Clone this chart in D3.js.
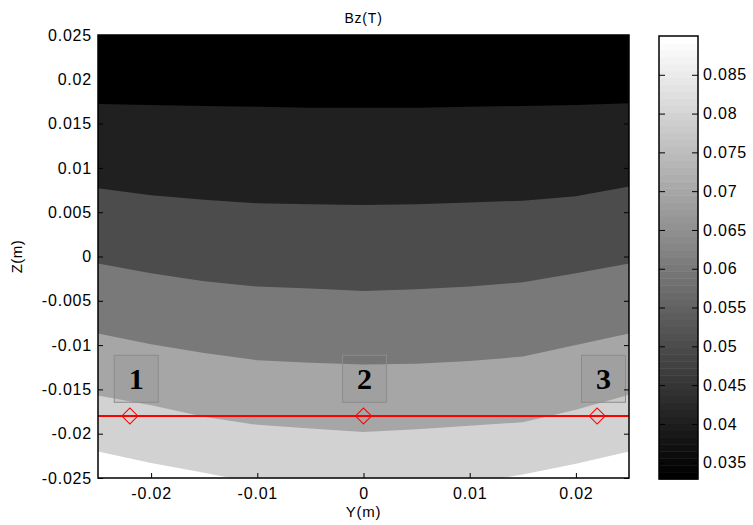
<!DOCTYPE html>
<html>
<head>
<meta charset="utf-8">
<script src="https://cdnjs.cloudflare.com/ajax/libs/d3/7.8.5/d3.min.js"></script>
<style>
	body { margin: 0; background: #fff; }
	svg { display: block; }
	text { font-family: "Liberation Sans", Arial, sans-serif; fill: #000; }
</style>
</head>
<body>
<svg id="chart" width="753" height="525"></svg>
<script>
'use strict';

// horizontal sample positions (Y, m) where the contour lines were read
var ySamples = [-0.025, -0.02, -0.015, -0.01, -0.005, 0, 0.005, 0.01, 0.015, 0.02, 0.025];

// contour levels of Bz (T) and the Z (m) of each level line at ySamples
var levels = [0.04, 0.05, 0.06, 0.07, 0.08, 0.09];
var line040 = [0.0172, 0.0171, 0.0170, 0.0169, 0.0168, 0.0168, 0.0168, 0.0169, 0.0170, 0.0171, 0.0173];
var line050 = [0.0077, 0.0069, 0.0064, 0.0060, 0.0059, 0.0058, 0.0059, 0.0061, 0.0063, 0.0068, 0.0079];
var line060 = [-0.0008, -0.0019, -0.0028, -0.0034, -0.0036, -0.0039, -0.0037, -0.0034, -0.0029, -0.0019, -0.0008];
var line070 = [-0.0087, -0.0099, -0.0109, -0.0117, -0.0120, -0.0122, -0.0121, -0.0118, -0.0113, -0.0100, -0.0087];
var line080 = [-0.0157, -0.0168, -0.0181, -0.0190, -0.0194, -0.0198, -0.0195, -0.0191, -0.0187, -0.0173, -0.0156];
var line090 = [-0.0220, -0.0233, -0.0244, -0.0256, -0.0260, -0.0262, -0.0260, -0.0256, -0.0246, -0.0234, -0.0220];
var levelLines = [line040, line050, line060, line070, line080, line090];

// colour limits of the colour bar
var cLimits = [0.0329, 0.0900];
var cTicks = [0.035, 0.04, 0.045, 0.05, 0.055, 0.06, 0.065, 0.07, 0.075, 0.08, 0.085];

// axes
var yDomain = [-0.025, 0.025];
var zDomain = [-0.025, 0.025];
var yTicks = [-0.02, -0.01, 0, 0.01, 0.02];
var zTicks = [-0.025, -0.02, -0.015, -0.01, -0.005, 0, 0.005, 0.01, 0.015, 0.02, 0.025];

// measurement line and points
var lineZ = -0.018;
var pointY = [-0.022, 0, 0.022];
var pointNames = ['1', '2', '3'];
var labelY = [-0.0214, 0.0001, 0.0226];
var labelZ = -0.0138;

var plot = { left: 98, top: 35, width: 531, height: 443 };
var bar = { left: 659, top: 36, width: 39, height: 443 };

var svg = d3.select('#chart');

var x = d3.scaleLinear().domain(yDomain).range([plot.left, plot.left + plot.width]);
var y = d3.scaleLinear().domain(zDomain).range([plot.top + plot.height, plot.top]);
var color = d3.scaleLinear().domain(cLimits).range(['#000000', '#ffffff']).clamp(true);

svg.append('defs')
	.append('clipPath')
	.attr('id', 'plot-clip')
	.append('rect')
	.attr('x', plot.left)
	.attr('y', plot.top)
	.attr('width', plot.width)
	.attr('height', plot.height);

var field = svg.append('g').attr('clip-path', 'url(#plot-clip)');

// lowest band: value below the first level
field.append('rect')
	.attr('x', plot.left)
	.attr('y', plot.top)
	.attr('width', plot.width)
	.attr('height', plot.height)
	.attr('fill', color(cLimits[0]));

// each level fills everything below its line (painted top to bottom)
var area = d3.area()
	.x(function(d) { return x(d[0]); })
	.y0(y(zDomain[0]) + 20)
	.y1(function(d) { return y(d[1]); });

levels.forEach(function(level, i) {
	var pts = ySamples.map(function(v, j) { return [v, levelLines[i][j]]; });
	field.append('path')
		.attr('d', area(pts))
		.attr('fill', color(level));
});

// measurement line
field.append('line')
	.attr('x1', x(yDomain[0]))
	.attr('x2', x(yDomain[1]))
	.attr('y1', y(lineZ))
	.attr('y2', y(lineZ))
	.attr('stroke', '#ff0000')
	.attr('stroke-width', 2);

field.selectAll('path.point')
	.data(pointY)
	.enter()
	.append('path')
	.attr('class', 'point')
	.attr('d', d3.symbol(d3.symbolSquare, 128)())
	.attr('transform', function(d) { return 'translate(' + x(d) + ',' + y(lineZ) + ') rotate(45)'; })
	.attr('fill', 'none')
	.attr('stroke', '#ff0000')
	.attr('stroke-width', 1);

// numbered boxes
var labels = svg.append('g')
	.selectAll('g')
	.data(pointNames)
	.enter()
	.append('g')
	.attr('transform', function(d, i) { return 'translate(' + x(labelY[i]) + ',' + y(labelZ) + ')'; });

labels.append('rect')
	.attr('x', -22)
	.attr('y', -23.5)
	.attr('width', 44)
	.attr('height', 47)
	.attr('fill', 'rgba(90,90,90,0.08)')
	.attr('stroke', '#8c8c8c')
	.attr('stroke-width', 1);

labels.append('text')
	.attr('y', 10)
	.attr('text-anchor', 'middle')
	.style('font-family', '"Liberation Serif", "Times New Roman", serif')
	.style('font-weight', 'bold')
	.style('font-size', '30px')
	.text(function(d) { return d; });

// axes, ticks pointing inwards on all four sides
function fmt(d) { return d === 0 ? '0' : String(+d.toFixed(3)); }

var axes = svg.append('g').attr('class', 'axes');

axes.append('g')
	.attr('transform', 'translate(0,' + (plot.top + plot.height) + ')')
	.call(d3.axisBottom(x).tickValues(yTicks).tickSize(-5).tickSizeOuter(0).tickFormat(fmt))
	.call(function(g) {
		g.select('.domain').remove();
		g.selectAll('text').attr('y', 10).attr('dy', '0.71em');
	});

axes.append('g')
	.attr('transform', 'translate(0,' + plot.top + ')')
	.call(d3.axisTop(x).tickValues(yTicks).tickSize(-5).tickSizeOuter(0).tickFormat(''))
	.call(function(g) { g.select('.domain').remove(); });

axes.append('g')
	.attr('transform', 'translate(' + plot.left + ',0)')
	.call(d3.axisLeft(y).tickValues(zTicks).tickSize(-5).tickSizeOuter(0).tickFormat(fmt))
	.call(function(g) {
		g.select('.domain').remove();
		g.selectAll('text').attr('x', -6);
	});

axes.append('g')
	.attr('transform', 'translate(' + (plot.left + plot.width) + ',0)')
	.call(d3.axisRight(y).tickValues(zTicks).tickSize(-5).tickSizeOuter(0).tickFormat(''))
	.call(function(g) { g.select('.domain').remove(); });

axes.selectAll('.tick line').attr('stroke', '#000');
axes.selectAll('.tick text')
	.style('font-size', '16px')
	.style('font-family', '"Liberation Sans", Arial, sans-serif')
	.style('letter-spacing', '0.8px');

axes.append('rect')
	.attr('x', plot.left)
	.attr('y', plot.top)
	.attr('width', plot.width)
	.attr('height', plot.height)
	.attr('fill', 'none')
	.attr('stroke', '#000')
	.attr('stroke-width', 1.5);

// titles
svg.append('text')
	.attr('x', x(0))
	.attr('y', 23)
	.attr('text-anchor', 'middle')
	.style('font-size', '14px')
	.style('letter-spacing', '0.8px')
	.text('Bz(T)');

svg.append('text')
	.attr('x', x(0))
	.attr('y', 517)
	.attr('text-anchor', 'middle')
	.style('font-size', '15px')
	.style('letter-spacing', '0.8px')
	.text('Y(m)');

svg.append('text')
	.attr('transform', 'translate(22,' + y(0) + ') rotate(-90)')
	.attr('text-anchor', 'middle')
	.style('font-size', '15px')
	.style('letter-spacing', '0.5px')
	.text('Z(m)');

// colour bar
var cb = d3.scaleLinear().domain(cLimits).range([bar.top + bar.height, bar.top]);
var steps = d3.range(64);
var stepH = bar.height / steps.length;

var cbar = svg.append('g').attr('class', 'colorbar');

cbar.selectAll('rect.step')
	.data(steps)
	.enter()
	.append('rect')
	.attr('class', 'step')
	.attr('x', bar.left)
	.attr('y', function(d) { return bar.top + bar.height - (d + 1) * stepH; })
	.attr('width', bar.width)
	.attr('height', stepH + 0.5)
	.attr('fill', function(d) { return d3.interpolateRgb('#000', '#fff')(d / 63); });

cbar.append('g')
	.attr('transform', 'translate(' + (bar.left + bar.width) + ',0)')
	.call(d3.axisRight(cb).tickValues(cTicks).tickSize(-6).tickSizeOuter(0).tickFormat(fmt))
	.call(function(g) {
		g.select('.domain').remove();
		g.selectAll('text').attr('x', 5);
	});

cbar.append('g')
	.attr('transform', 'translate(' + bar.left + ',0)')
	.call(d3.axisLeft(cb).tickValues(cTicks).tickSize(-6).tickSizeOuter(0).tickFormat(''))
	.call(function(g) { g.select('.domain').remove(); });

cbar.selectAll('.tick line').attr('stroke', '#000');
cbar.selectAll('.tick text')
	.style('font-size', '16px')
	.style('font-family', '"Liberation Sans", Arial, sans-serif')
	.style('letter-spacing', '0.8px');

cbar.append('rect')
	.attr('x', bar.left)
	.attr('y', bar.top)
	.attr('width', bar.width)
	.attr('height', bar.height)
	.attr('fill', 'none')
	.attr('stroke', '#000')
	.attr('stroke-width', 1.5);
</script>
</body>
</html>
